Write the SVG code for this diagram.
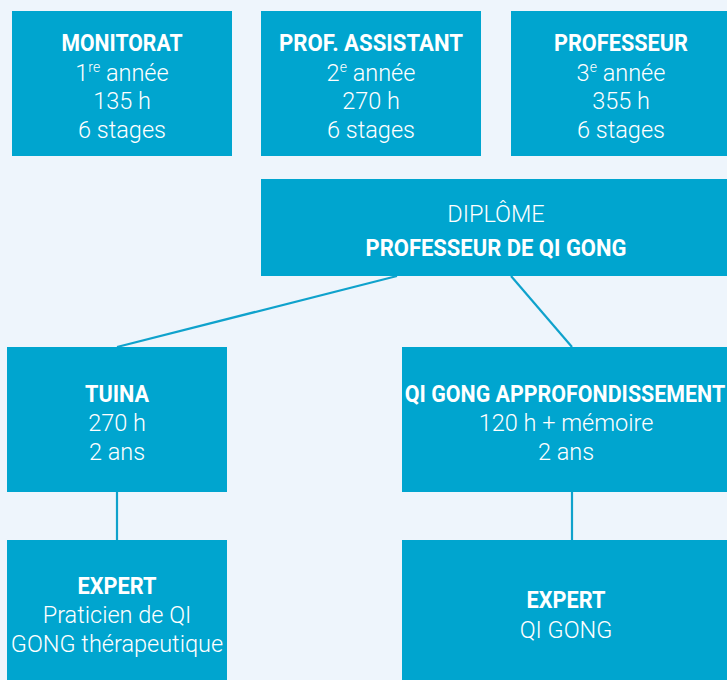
<svg xmlns="http://www.w3.org/2000/svg" width="727" height="680" viewBox="0 0 727 680">
<style>
.box{fill:#00a5cf}
.b{font-family:Roboto,"Liberation Sans",sans-serif;font-weight:700;font-size:23.5px;fill:#ffffff;text-anchor:middle}
.r{font-family:Roboto,"Liberation Sans",sans-serif;font-weight:300;font-size:23.5px;fill:#ffffff;text-anchor:middle}
.sup{font-size:14px}
.conn{stroke:#0fa2cc;stroke-width:2.2;fill:none}
</style>
<rect width="727" height="680" fill="#eef5fc"/>
<g id="connectors">
<line class="conn" x1="397" y1="276" x2="117" y2="347"/>
<line class="conn" x1="511" y1="276" x2="572" y2="347"/>
<line class="conn" x1="117" y1="492" x2="117" y2="540"/>
<line class="conn" x1="572" y1="492" x2="572" y2="540"/>
</g>
<g id="monitorat">
<rect class="box" x="12" y="11" width="220" height="145"/>
<text class="b" x="122" y="51" textLength="121" lengthAdjust="spacingAndGlyphs">MONITORAT</text>
<text class="r" x="122" y="81">1<tspan class="sup" dy="-9">re</tspan><tspan dy="9"> année</tspan></text>
<text class="r" x="122" y="109">135 h</text>
<text class="r" x="122" y="138">6 stages</text>
</g>
<g id="prof-assistant">
<rect class="box" x="261" y="11" width="220" height="145"/>
<text class="b" x="371" y="51" textLength="184" lengthAdjust="spacingAndGlyphs">PROF. ASSISTANT</text>
<text class="r" x="371" y="81">2<tspan class="sup" dy="-9">e</tspan><tspan dy="9"> année</tspan></text>
<text class="r" x="371" y="109">270 h</text>
<text class="r" x="371" y="138">6 stages</text>
</g>
<g id="professeur">
<rect class="box" x="511" y="11" width="220" height="145"/>
<text class="b" x="621" y="51" textLength="134" lengthAdjust="spacingAndGlyphs">PROFESSEUR</text>
<text class="r" x="621" y="81">3<tspan class="sup" dy="-9">e</tspan><tspan dy="9"> année</tspan></text>
<text class="r" x="621" y="109">355 h</text>
<text class="r" x="621" y="138">6 stages</text>
</g>
<g id="diplome">
<rect class="box" x="261" y="179" width="470" height="97"/>
<text class="r" x="496" y="222">DIPLÔME</text>
<text class="b" x="496" y="256" textLength="261" lengthAdjust="spacingAndGlyphs">PROFESSEUR DE QI GONG</text>
</g>
<g id="tuina">
<rect class="box" x="7" y="347" width="220" height="145"/>
<text class="b" x="117" y="402" textLength="64" lengthAdjust="spacingAndGlyphs">TUINA</text>
<text class="r" x="117" y="431">270 h</text>
<text class="r" x="117" y="460">2 ans</text>
</g>
<g id="qigong-approfondissement">
<rect class="box" x="402" y="347" width="329" height="145"/>
<text class="b" transform="translate(565,402) scale(0.88,1)" x="0" y="0" textLength="364" lengthAdjust="spacingAndGlyphs">QI GONG APPROFONDISSEMENT</text>
<text class="r" x="566" y="431">120 h + mémoire</text>
<text class="r" x="566" y="460">2 ans</text>
</g>
<g id="expert-praticien">
<rect class="box" x="7" y="540" width="220" height="145"/>
<text class="b" x="117" y="594" textLength="79" lengthAdjust="spacingAndGlyphs">EXPERT</text>
<text class="r" x="117" y="623">Praticien de QI</text>
<text class="r" x="117" y="652">GONG thérapeutique</text>
</g>
<g id="expert-qigong">
<rect class="box" x="402" y="540" width="329" height="145"/>
<text class="b" x="566" y="608" textLength="79" lengthAdjust="spacingAndGlyphs">EXPERT</text>
<text class="r" x="566" y="638">QI GONG</text>
</g>
</svg>
